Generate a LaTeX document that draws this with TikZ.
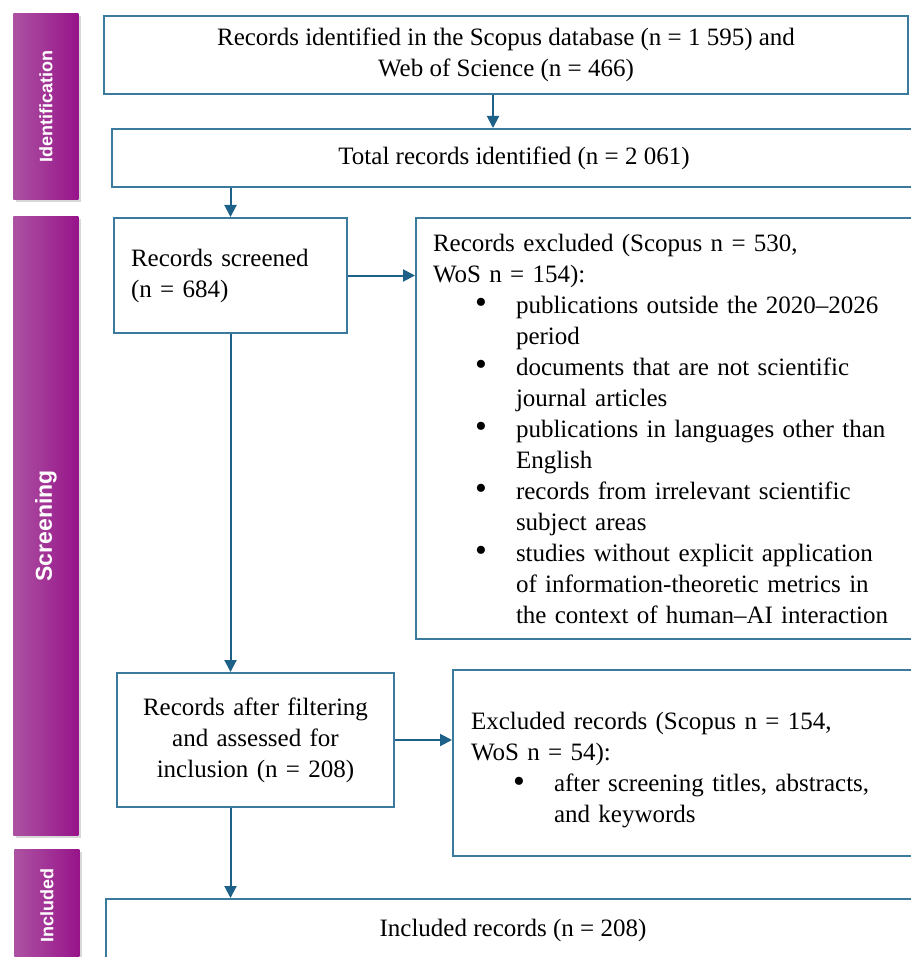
\documentclass[tikz,border=0pt]{standalone}
\usepackage{fontspec}
\setmainfont{Liberation Serif}
\newfontfamily\phasefont{Liberation Sans}
\usetikzlibrary{arrows.meta,positioning,shadows}
\definecolor{prismaBox}{HTML}{3B7A9C}
\definecolor{prismaArrow}{HTML}{1D6189}
\definecolor{prismaLight}{HTML}{AC52A2}
\definecolor{prismaDark}{HTML}{97148A}
\newcommand{\prbul}{\hspace*{21pt}\makebox[20.5pt][l]{\raisebox{-0.4pt}{\scalebox{1.35}{\textbullet}}}}
\newcommand{\prcont}{\hspace*{41.5pt}}

\begin{document}
\begin{tikzpicture}[x=0.5pt,y=-0.5pt,
    font=\fontsize{12.5}{15.5}\selectfont,
    box/.style={draw=prismaBox,line width=1pt,fill=white,anchor=north west,
                inner xsep=8.5pt,inner ysep=0pt},
    phase/.style={anchor=north west,left color=prismaLight,right color=prismaDark,
                  text=white,inner sep=0pt,minimum width=32.5pt,
                  drop shadow={shadow xshift=1.5pt,shadow yshift=-1.5pt,opacity=.3}},
    arr/.style={draw=prismaArrow,line width=1pt,-{Triangle[length=6pt,width=6pt]}}]

  \useasboundingbox[fill=white] (0,0) rectangle (910,957);

  % phase bars
  \node[phase,minimum height=93pt,font=\phasefont\bfseries\fontsize{9}{10}\selectfont]
    (sideId) at (13,13) {\rotatebox{90}{Identification}};
  \node[phase,minimum height=309.5pt,font=\phasefont\bfseries\fontsize{11.5}{13}\selectfont]
    (sideScr) at (13,216) {\rotatebox{90}{Screening}};
  \node[phase,minimum height=56.5pt,font=\phasefont\bfseries\fontsize{9}{10}\selectfont]
    (sideInc) at (14,849) {\rotatebox{90}{Included}};

  % boxes
  \node[box,minimum width=402pt,minimum height=39pt,align=center] (ident) at (103,15)
    {Records identified in the Scopus database (n = 1 595) and\\
     Web of Science (n = 466)};
  \node[box,minimum width=402pt,minimum height=29pt] (total) at (111,128)
    {Total records identified (n = 2 061)};
  \node[box,minimum height=57.5pt,text width=99.5pt,align=left] (screened) at (113,217)
    {Records screened\\(n = 684)};
  \node[box,minimum height=210.5pt,text width=240pt,align=left] (excl1) at (415,217)
    {Records excluded (Scopus n = 530,\\
     WoS n = 154):\\
     \prbul publications outside the 2020--2026\\
     \prcont period\\
     \prbul documents that are not scientific\\
     \prcont journal articles\\
     \prbul publications in languages other than\\
     \prcont English\\
     \prbul records from irrelevant scientific\\
     \prcont subject areas\\
     \prbul studies without explicit application\\
     \prcont of information-theoretic metrics in\\
     \prcont the context of human--AI interaction};
  \node[box,inner xsep=4pt,minimum height=67pt,text width=130.5pt,align=center] (assessed) at (116,672)
    {Records after filtering\\and assessed for\\inclusion (n = 208)};
  \node[box,inner xsep=9pt,minimum height=93pt,text width=216pt,align=left] (excl2) at (452,669)
    {\rule{0pt}{15.5pt}Excluded records (Scopus n = 154,\\
     WoS n = 54):\\
     \prbul after screening titles, abstracts,\\
     \prcont and keywords};
  \node[box,minimum width=407pt,minimum height=31pt] (incl) at (105,898)
    {Included records (n = 208)};

  % connectors
  \draw[arr] ([xshift=-6.5pt]ident.south) -- ([xshift=-6.5pt]ident.south |- total.north);
  \draw[arr] (total.south -| screened.north) -- (screened.north);
  \draw[arr] (screened.east) -- (screened.east -| excl1.west);
  \draw[arr] (screened.south) -- (screened.south |- assessed.north);
  \draw[arr] (assessed.east) -- (assessed.east -| excl2.west);
  \draw[arr] (assessed.south -| screened.south) -- (screened.south |- incl.north);
\end{tikzpicture}
\end{document}
